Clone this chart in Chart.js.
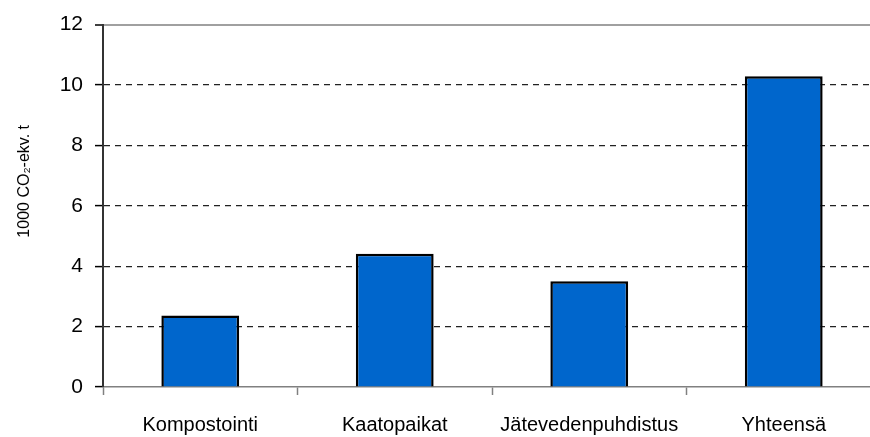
<!DOCTYPE html>
<html>
<head>
<meta charset="utf-8">
<script src="https://cdn.jsdelivr.net/npm/chart.js@4"></script>
<style>
  html, body { margin: 0; padding: 0; background: #fff; overflow: hidden; }
  #chart { display: block; }
</style>
</head>
<body>
<canvas id="chart" width="884" height="437"></canvas>
<script>
const categories = ["Kompostointi", "Kaatopaikat", "Jätevedenpuhdistus", "Yhteensä"];
const values = [2.37, 4.41, 3.5, 10.29];
const yTicks = [0, 2, 4, 6, 8, 10, 12];
const yTitle = "1000 CO₂-ekv. t";

// plot area edges in the picture: left 103, top 23, bottom 387
const ctx = document.getElementById("chart").getContext("2d");
new Chart(ctx, {
  type: "bar",
  data: {
    labels: categories,
    datasets: [{
      data: values,
      backgroundColor: "#0066cc",
      borderColor: "#000",
      borderWidth: 2.5,
      barPercentage: 0.4,
      categoryPercentage: 1
    }]
  },
  options: {
    responsive: false,
    animation: false,
    layout: { padding: { top: 22, right: 3, left: 0, bottom: 0 } },
    plugins: { legend: { display: false }, tooltip: { enabled: false } },
    scales: {
      x: {
        afterFit: s => { s.height = 50; },
        grid: {
          offset: true,
          drawOnChartArea: false,
          drawTicks: true,
          tickLength: 8,
          tickColor: "#808080",
          tickWidth: 1.5
        },
        border: { color: "#808080", width: 1.5 },
        ticks: {
          color: "#000",
          font: { family: "'Liberation Sans', Arial", size: 20 },
          padding: 18,
          autoSkip: false,
          maxRotation: 0
        }
      },
      y: {
        min: 0,
        max: 12,
        afterFit: s => { s.width = 103; },
        afterBuildTicks: s => { s.ticks = yTicks.map(v => ({ value: v })); },
        grid: {
          color: c => c.tick && c.tick.value === 12 ? "#a0a0a0" : (c.tick && c.tick.value === 0 ? "rgba(0,0,0,0)" : "#222"),
          lineWidth: c => c.tick && c.tick.value === 12 ? 2 : 1.2,
          tickLength: 8,
          tickColor: "#000",
          tickWidth: 1.5,
          tickBorderDash: []
        },
        border: {
          color: "#333",
          width: 2,
          dash: c => c.tick && c.tick.value === 12 ? [] : [6, 5]
        },
        ticks: {
          color: "#000",
          font: { family: "'Liberation Sans', Arial", size: 21 },
          padding: 12
        },
        title: {
          display: true,
          text: "           " + yTitle,
          color: "#000",
          font: { family: "'Liberation Sans', Arial", size: 16 },
          padding: { top: 15, bottom: 0 }
        }
      }
    }
  }
});
</script>
</body>
</html>
